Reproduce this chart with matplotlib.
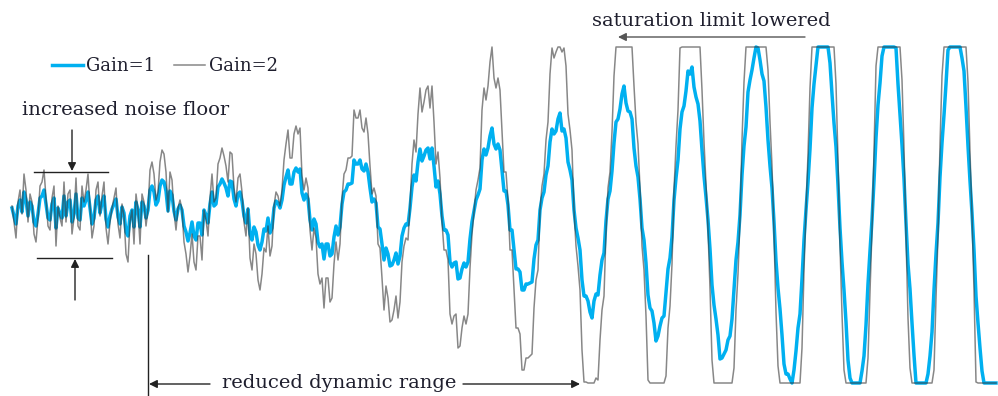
import numpy as np
import matplotlib
matplotlib.use("Agg")
import matplotlib.pyplot as plt
from matplotlib.lines import Line2D

# Signal level (same arbitrary units for both traces,
# saturation limits at +163 / -173).
# "_a" = samples at every 4th pixel, "_b" = samples halfway between them.
gain1_a = [2, -14, 10, 18, -6, 4, -16, 12, 20, -8,
           6, -18, -4, 14, 8, -12, 16, -10, 4, 18,
           -14, 10, -3, 14, -17, 1, 11, -14, -3, -26,
           0, 8, -17, 4, 0, 24, 5, 24, 28, -1,
           15, -10, 5, -16, -31, -12, -30, -13, 0, -13,
           18, 6, 26, 27, 14, 28, 4, 18, -6, 1,
           -30, -22, -40, -19, -8, -18, 9, 2, 25, 40,
           26, 42, 41, 10, 11, -20, -14, -37, -49, -34,
           -44, -16, -17, 18, 26, 27, 46, 50, 39, 38,
           8, 7, -19, -50, -44, -55, -43, -46, -18, -15,
           23, 29, 61, 54, 62, 62, 23, 16, -20, -25,
           -57, -52, -68, -53, -52, -12, 10, 21, 61, 62,
           82, 61, 60, 19, 5, -20, -59, -62, -80, -74,
           -72, -35, 0, 18, 44, 81, 79, 97, 81, 48,
           30, -18, -40, -86, -91, -108, -84, -65, -43, 11,
           39, 88, 101, 124, 99, 91, 44, 11, -30, -85,
           -101, -131, -116, -106, -59, -27, 32, 81, 104, 139,
           143, 113, 89, 34, -10, -75, -109, -149, -144, -130,
           -109, -50, -5, 64, 118, 140, 163, 150, 129, 70,
           22, -51, -99, -154, -164, -173, -141, -104, -30, 28,
           102, 145, 163, 163, 163, 116, 63, -18, -80, -150,
           -173, -173, -173, -146, -74, -10, 72, 127, 163, 163,
           163, 162, 95, 31, -54, -113, -173, -173, -173, -164,
           -122, -44, 33, 95, 160, 163, 163, 163, 139, 64,
           -3, -86, -138, -173, -173, -173, -173]
gain1_b = [-6, 4, -2, 10, 8, -12, -4, 14, 6, -10,
           12, 2, -8, -6, 10, -4, -8, 12, 10, 2,
           -8, 14, 7, -9, -6, 6, -7, 3, -22, -6,
           -17, 0, 8, -8, 20, 18, 9, 30, 19, 19,
           -1, 1, 0, -22, -23, -26, -13, -25, -5, 6,
           4, 23, 31, 22, 29, 11, 16, 9, -13, -24,
           -17, -35, -32, -21, -23, 2, 7, 10, 33, 26,
           38, 38, 17, 16, -10, -9, -32, -34, -34, -46,
           -27, -25, 6, 20, 26, 50, 46, 41, 46, 22,
           11, -17, -34, -38, -56, -50, -54, -26, -14, 2,
           35, 48, 49, 60, 51, 44, 29, -6, -20, -52,
           -53, -69, -59, -57, -29, -1, 15, 50, 55, 74,
           66, 66, 39, 19, -20, -39, -59, -80, -74, -73,
           -49, -30, 12, 35, 68, 76, 91, 79, 72, 40,
           0, -28, -70, -86, -102, -91, -85, -50, -11, 19,
           67, 91, 116, 107, 98, 62, 33, -18, -53, -98,
           -113, -126, -108, -83, -48, 10, 50, 98, 119, 136,
           123, 106, 60, 13, -39, -95, -125, -148, -140, -126,
           -79, -32, 35, 83, 130, 152, 162, 136, 103, 44,
           -12, -78, -125, -164, -169, -160, -118, -69, 0, 61,
           126, 163, 163, 163, 147, 87, 25, -52, -112, -168,
           -173, -173, -161, -115, -41, 29, 105, 154, 163, 163,
           163, 126, 65, -13, -79, -145, -173, -173, -173, -146,
           -80, -13, 67, 126, 163, 163, 163, 152, 103, 29,
           -40, -113, -161, -173, -173, -173]

gain2_a = [4, -28, 20, 36, -12, 8, -32, 24, 40, -16,
           12, -36, -8, 28, 16, -24, 32, -20, 8, 36,
           -28, 20, -6, 28, -34, 2, 22, -28, -6, -52,
           0, 16, -34, 8, 0, 48, 10, 48, 56, -2,
           30, -20, 10, -32, -62, -24, -60, -26, 0, -26,
           36, 12, 52, 54, 28, 56, 8, 36, -12, 2,
           -60, -44, -80, -38, -16, -36, 18, 4, 50, 80,
           52, 84, 82, 20, 22, -40, -28, -74, -98, -68,
           -88, -32, -34, 36, 52, 54, 92, 100, 78, 76,
           16, 14, -38, -100, -88, -110, -86, -92, -36, -30,
           46, 58, 122, 108, 124, 124, 46, 32, -40, -50,
           -114, -104, -136, -106, -104, -24, 20, 42, 122, 124,
           163, 122, 120, 38, 10, -40, -118, -124, -160, -148,
           -144, -70, 0, 36, 88, 162, 158, 163, 162, 96,
           60, -36, -80, -172, -173, -173, -168, -130, -86, 22,
           78, 163, 163, 163, 163, 163, 88, 22, -60, -170,
           -173, -173, -173, -173, -118, -54, 64, 162, 163, 163,
           163, 163, 163, 68, -20, -150, -173, -173, -173, -173,
           -173, -100, -10, 128, 163, 163, 163, 163, 163, 140,
           44, -102, -173, -173, -173, -173, -173, -173, -60, 56,
           163, 163, 163, 163, 163, 163, 126, -36, -160, -173,
           -173, -173, -173, -173, -148, -20, 144, 163, 163, 163,
           163, 163, 163, 62, -108, -173, -173, -173, -173, -173,
           -173, -88, 66, 163, 163, 163, 163, 163, 163, 128,
           -6, -172, -173, -173, -173, -173, -173]
gain2_b = [-12, 8, -4, 20, 16, -24, -8, 28, 12, -20,
           24, 4, -16, -12, 20, -8, -16, 24, 20, 4,
           -16, 28, 14, -18, -12, 12, -14, 6, -44, -12,
           -34, 0, 16, -16, 40, 36, 18, 60, 38, 38,
           -2, 2, 0, -44, -46, -52, -26, -50, -10, 12,
           8, 46, 62, 44, 58, 22, 32, 18, -26, -48,
           -34, -70, -64, -42, -46, 4, 14, 20, 66, 52,
           76, 76, 34, 32, -20, -18, -64, -68, -68, -92,
           -54, -50, 12, 40, 52, 100, 92, 82, 92, 44,
           22, -34, -68, -76, -112, -100, -108, -52, -28, 4,
           70, 96, 98, 120, 102, 88, 58, -12, -40, -104,
           -106, -138, -118, -114, -58, -2, 30, 100, 110, 148,
           132, 132, 78, 38, -40, -78, -118, -160, -148, -146,
           -98, -60, 24, 70, 136, 152, 163, 158, 144, 80,
           0, -56, -140, -172, -173, -173, -170, -100, -22, 38,
           134, 163, 163, 163, 163, 124, 66, -36, -106, -173,
           -173, -173, -173, -166, -96, 20, 100, 163, 163, 163,
           163, 163, 120, 26, -78, -173, -173, -173, -173, -173,
           -158, -64, 70, 163, 163, 163, 163, 163, 163, 88,
           -24, -156, -173, -173, -173, -173, -173, -138, 0, 122,
           163, 163, 163, 163, 163, 163, 50, -104, -173, -173,
           -173, -173, -173, -173, -82, 58, 163, 163, 163, 163,
           163, 163, 130, -26, -158, -173, -173, -173, -173, -173,
           -160, -26, 134, 163, 163, 163, 163, 163, 163, 58,
           -80, -173, -173, -173, -173, -173]

series_labels = ["Gain=1", "Gain=2"]
annotation_texts = ["increased noise floor", "reduced dynamic range",
                    "saturation limit lowered"]


def interleave(a, b):
    out = np.empty(len(a) + len(b))
    out[0::2] = a
    out[1::2] = b
    return out


gain1 = interleave(gain1_a, gain1_b)
gain2 = interleave(gain2_a, gain2_b)

W, H = 998, 396
BLUE = "#00b0f0"
GRAY = "#383838"
TXT = "#1f1f2e"
FONT = "DejaVu Serif"
FS = 14

fig = plt.figure(figsize=(W / 100, H / 100), dpi=100)
ax = fig.add_axes([0, 0, 1, 1])
ax.axis("off")
t = np.arange(len(gain1))
ax.set_xlim(-6, 493)
ax.set_ylim(-186, 210)

l1, = ax.plot(t, gain1, color=BLUE, lw=2.5, zorder=2, label=series_labels[0])
l2, = ax.plot(t, gain2, color=GRAY, lw=1.1, alpha=0.6, zorder=3, label=series_labels[1])

ax.legend(handles=[l1, l2], ncol=2, frameon=False, loc="center left",
          bbox_to_anchor=(52 / W, 1 - 66 / H), borderaxespad=0, borderpad=0,
          handlelength=1.7, handletextpad=0.2, columnspacing=1.05,
          prop={"family": FONT, "size": 13}, labelcolor=TXT)


def fp(x, y):
    return (x / W, 1 - y / H)


def hline(x0, x1, y, color="#222222"):
    fig.add_artist(Line2D([x0 / W, x1 / W], [1 - y / H, 1 - y / H],
                          color=color, lw=1.0, transform=fig.transFigure))


def vline(x, y0, y1, color="#222222"):
    fig.add_artist(Line2D([x / W, x / W], [1 - y0 / H, 1 - y1 / H],
                          color=color, lw=1.0, transform=fig.transFigure))


def arrow(x0, y0, x1, y1, color="#222222"):
    ax.annotate("", xy=fp(x1, y1), xytext=fp(x0, y0),
                xycoords="figure fraction", textcoords="figure fraction",
                arrowprops=dict(arrowstyle="-|>", color=color, lw=1.0,
                                mutation_scale=12, shrinkA=0, shrinkB=0))


# increased noise floor
fig.text(22 / W, 1 - 110 / H, annotation_texts[0], ha="left", va="center",
         family=FONT, fontsize=FS, color=TXT)
hline(34, 108, 172)
arrow(72, 130, 72, 171)
hline(37, 112, 258)
arrow(75, 300, 75, 259)

# reduced dynamic range
vline(148, 255, 396)
arrow(210, 384, 149, 384)
fig.text(222 / W, 1 - 383 / H, annotation_texts[1], ha="left", va="center",
         family=FONT, fontsize=FS, color=TXT)
arrow(463, 384, 580, 384)

# saturation limit lowered
fig.text(592 / W, 1 - 21 / H, annotation_texts[2], ha="left", va="center",
         family=FONT, fontsize=FS, color=TXT)
arrow(805, 37, 618, 37, color="#555555")

fig.savefig("out.png", dpi=100, facecolor="white")
